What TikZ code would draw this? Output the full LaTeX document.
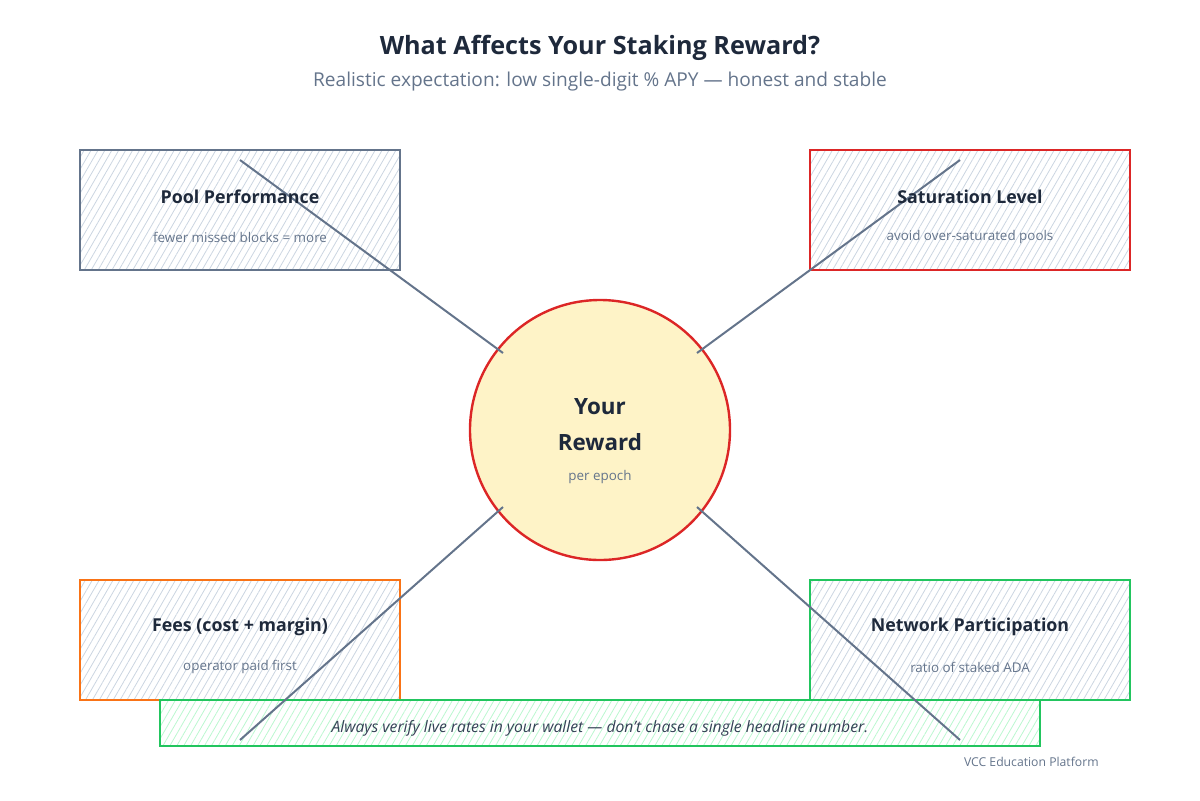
\documentclass[tikz,border=0pt]{standalone}
\usepackage{fontspec}
\setmainfont{Open Sans}
\usetikzlibrary{patterns.meta}
\definecolor{ink}{HTML}{1E293B}
\definecolor{slate}{HTML}{64748B}
\definecolor{hatchgray}{HTML}{CBD5E1}
\definecolor{hatchgreen}{HTML}{BBF7D0}
\definecolor{cred}{HTML}{DC2626}
\definecolor{corange}{HTML}{F97316}
\definecolor{cgreen}{HTML}{22C55E}
\definecolor{cream}{HTML}{FEF3C7}
\definecolor{notetext}{HTML}{334155}
\tikzset{
  factor/.style={draw=#1, line width=1.4pt, minimum width=160pt, minimum height=60pt, inner sep=0pt,
    pattern={Lines[angle=60,distance=3pt,line width=0.4pt]}, pattern color=hatchgray},
  ftitle/.style={font=\bfseries\fontsize{8.9}{11}\selectfont, text=ink},
  fsub/.style={font=\fontsize{6.7}{8}\selectfont, text=slate},
  link/.style={draw=slate, line width=1pt},
}
\begin{document}
\begin{tikzpicture}[x=0.5pt,y=-0.5pt]
\useasboundingbox (0,0) rectangle (1200,800);
% title
\node[font=\bfseries\fontsize{12.6}{14}\selectfont, text=ink] (title) at (600,48) {What Affects Your Staking Reward?};
\node[font=\fontsize{9.55}{11}\selectfont, text=slate] (subtitle) at (600,82) {Realistic expectation: low single-digit \% APY — honest and stable};
% boxes
\node[factor=slate] (pp) at (240,210) {};
\node[factor=cred] (sl) at (970,210) {};
\node[factor=corange] (fe) at (240,640) {};
\node[factor=cgreen] (np) at (970,640) {};
% circle
\node[circle, draw=cred, fill=cream, line width=1.2pt, minimum size=130pt, inner sep=0pt] (rw) at (600,430) {};
% connector endpoints
\coordinate (a1) at (240,160);
\coordinate (a2) at (960,160);
\coordinate (a3) at (240,740);
\coordinate (a4) at (960,740);
\coordinate (c1) at (503,353);
\coordinate (c2) at (697,353);
\coordinate (c3) at (503,507);
\coordinate (c4) at (697,507);
% note
\node[draw=cgreen, line width=1.4pt, minimum width=440pt, minimum height=23pt, inner sep=0pt,
  pattern={Lines[angle=60,distance=3pt,line width=0.4pt]}, pattern color=hatchgreen] (note) at (600,723) {};
\draw[link] (a1) -- (c1);
\draw[link] (a2) -- (c2);
\draw[link] (c3) -- (a3);
\draw[link] (c4) -- (a4);
% texts
\node[ftitle] (ppt) at (240,197) {Pool Performance};
\node[fsub] (pps) at (240,237) {fewer missed blocks = more};
\node[ftitle] (slt) at (970,197) {Saturation Level};
\node[fsub] (sls) at (970,237) {avoid over-saturated pools};
\node[ftitle] (fet) at (240,627) {Fees (cost + margin)};
\node[fsub] (fes) at (240,667) {operator paid first};
\node[ftitle] (npt) at (970,627) {Network Participation};
\node[fsub] (nps) at (970,667) {ratio of staked ADA};
\node[font=\bfseries\fontsize{11.2}{13}\selectfont, text=ink] (rw1) at (600,407) {Your};
\node[font=\bfseries\fontsize{11.2}{13}\selectfont, text=ink] (rw2) at (600,442) {Reward};
\node[fsub] (rw3) at (600,477) {per epoch};
\node[font=\itshape\fontsize{7.85}{9}\selectfont, text=notetext] (notet) at (600,728) {Always verify live rates in your wallet — don't chase a single headline number.};
\node[font=\fontsize{6.1}{7}\selectfont, text=slate, anchor=east, inner sep=0pt] (foot) at (1099,762) {VCC Education Platform};
\end{tikzpicture}
\end{document}
